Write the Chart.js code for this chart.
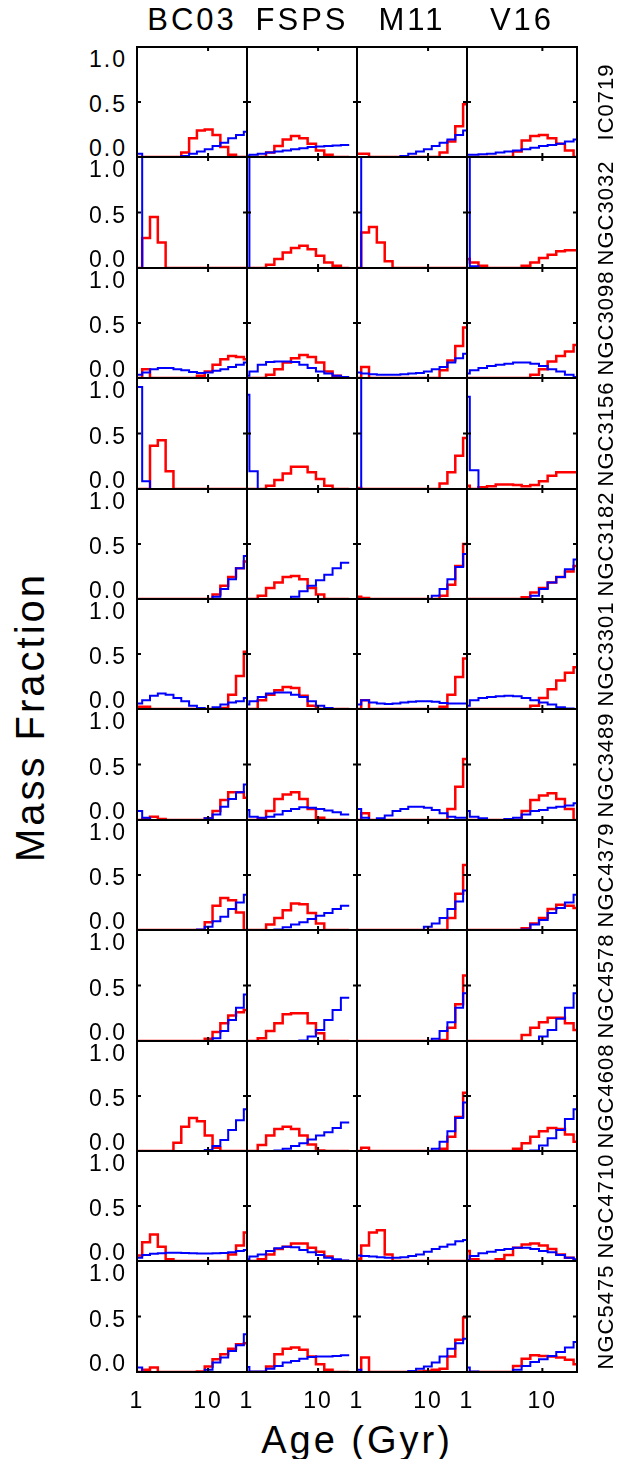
<!DOCTYPE html>
<html>
<head>
<meta charset="utf-8">
<script src="https://cdn.jsdelivr.net/npm/chart.js@4.4.0/dist/chart.umd.min.js"></script>
<style>
  html, body { margin: 0; padding: 0; background: #fff; }
  #fig { position: relative; width: 622px; height: 1459px; overflow: hidden;
         font-family: 'Liberation Sans', Arial, sans-serif; color: #000; }
  #fig canvas { position: absolute; }
  .lbl { position: absolute; white-space: nowrap; line-height: 1; }
</style>
</head>
<body>
<div id="fig"></div>
<script>
const galaxies = ['IC0719', 'NGC3032', 'NGC3098', 'NGC3156', 'NGC3182', 'NGC3301',
                  'NGC3489', 'NGC4379', 'NGC4578', 'NGC4608', 'NGC4710', 'NGC5475'];
const models = ['BC03', 'FSPS', 'M11', 'V16'];

// age bin edges (Gyr) for each model grid
const edgesBC03 = [0.918, 1.183, 1.524, 1.963, 2.529, 3.258, 4.198, 5.408, 6.966, 8.974, 11.56, 14.89, 19.19, 24.72, 31.84, 41.02];
const edgesFSPS = [0.826, 1.081, 1.416, 1.854, 2.427, 3.177, 4.159, 5.445, 7.129, 9.333, 12.22, 16.00, 20.94, 27.42];
const edgesM11  = [0.887, 1.146, 1.476, 1.901, 2.455, 3.162, 4.074, 5.260, 6.776, 8.730, 11.27, 14.52, 18.71, 24.15, 31.12, 40.09];
const edgesV16  = [0.836, 1.089, 1.419, 1.845, 2.404, 3.133, 4.083, 5.309, 6.918, 9.016, 11.75, 15.28, 19.91, 25.94, 33.73];

// x range upper limit (Gyr) per column
const ageMax = [35.3, 35.3, 35.3, 28.8];

const xTickValues = [1, 10];
const xTickLabels = ['1', '10'];
const yTickValues = [1, 0.5, 0];
const yTickLabels = ['1.0', '0.5', '0.0'];

// mass fractions, one row per galaxy (red / blue histograms)
const redBC03 = [
  [0,0,0,0,0,0,0.04,0.17,0.24,0.25,0.2,0.09,0.02,0,0],
  [0,0.27,0.46,0.23,0,0,0,0,0,0,0,0,0,0,0],
  [0,0.08,0,0,0,0,0,0,0.02,0.06,0.12,0.17,0.2,0.19,0.17],
  [0,0,0.39,0.44,0.16,0,0,0,0,0,0,0,0,0,0],
  [0,0,0,0,0,0,0,0,0,0,0.04,0.12,0.2,0.28,0.34],
  [0.02,0.02,0,0,0,0,0,0,0,0,0,0.01,0.13,0.3,0.52],
  [0,0.01,0.03,0.01,0,0,0,0,0,0.015,0.08,0.18,0.25,0.25,0.2],
  [0,0,0,0,0,0,0,0,0,0.07,0.22,0.29,0.27,0.16,0],
  [0,0,0,0,0,0,0,0,0,0.02,0.08,0.16,0.23,0.26,0.28],
  [0,0,0,0,0,0.075,0.22,0.3,0.27,0.14,0.03,0,0,0,0],
  [0.05,0.17,0.24,0.13,0.015,0,0,0,0,0,0,0,0.06,0.14,0.26],
  [0,0.02,0.04,0,0,0,0,0,0.005,0.05,0.115,0.16,0.21,0.25,0.26]
];
const blueBC03 = [
  [0.03,0,0,0,0,0,0.01,0.03,0.05,0.07,0.1,0.13,0.17,0.2,0.23],
  [1,0,0,0,0,0,0,0,0,0,0,0,0,0,0],
  [0.03,0.05,0.08,0.09,0.09,0.08,0.07,0.055,0.045,0.05,0.065,0.08,0.1,0.12,0.14],
  [0.92,0.07,0,0,0,0,0,0,0,0,0,0,0,0,0],
  [0,0,0,0,0,0,0,0,0,0,0.02,0.09,0.18,0.28,0.39],
  [0.05,0.08,0.12,0.14,0.13,0.1,0.07,0.03,0.01,0,0.015,0.04,0.06,0.07,0.1],
  [0.08,0.02,0,0,0,0,0,0,0,0.015,0.05,0.12,0.19,0.25,0.32],
  [0,0,0,0,0,0,0,0,0.005,0.03,0.08,0.12,0.19,0.25,0.32],
  [0,0,0,0,0,0,0,0,0,0,0.025,0.09,0.19,0.3,0.42],
  [0,0,0,0,0,0,0,0,0,0.01,0.045,0.1,0.19,0.28,0.38],
  [0.03,0.055,0.065,0.07,0.075,0.075,0.072,0.07,0.068,0.068,0.07,0.072,0.08,0.09,0.1],
  [0.04,0,0,0,0,0,0,0,0,0.02,0.085,0.13,0.19,0.24,0.34]
];
const redFSPS = [
  [0,0,0,0.04,0.1,0.16,0.19,0.17,0.12,0.06,0.02,0,0],
  [0,0,0,0.03,0.08,0.14,0.18,0.2,0.17,0.11,0.05,0.02,0],
  [0,0,0,0.03,0.08,0.14,0.18,0.21,0.19,0.14,0.06,0.02,0],
  [0,0,0,0.03,0.08,0.14,0.2,0.2,0.15,0.09,0.03,0,0],
  [0,0,0.03,0.1,0.15,0.2,0.21,0.18,0.1,0.04,0,0,0],
  [0,0,0.08,0.13,0.17,0.2,0.19,0.12,0.03,0,0,0,0],
  [0,0,0.015,0.08,0.19,0.23,0.25,0.19,0.1,0.02,0,0,0],
  [0,0,0,0.05,0.11,0.18,0.24,0.235,0.155,0.06,0,0,0],
  [0,0,0.025,0.09,0.16,0.24,0.25,0.25,0.16,0.07,0,0,0],
  [0,0,0.055,0.14,0.2,0.22,0.2,0.14,0.06,0.005,0,0,0],
  [0,0,0.015,0.06,0.11,0.13,0.16,0.16,0.12,0.085,0.04,0.005,0],
  [0,0,0,0.05,0.16,0.21,0.22,0.2,0.14,0.07,0.02,0,0]
];
const blueFSPS = [
  [0.01,0.02,0.03,0.04,0.05,0.06,0.07,0.08,0.09,0.095,0.1,0.105,0.11],
  [1,0,0,0,0,0,0,0,0,0,0,0,0],
  [0.02,0.06,0.12,0.145,0.15,0.15,0.145,0.12,0.09,0.06,0.04,0.02,0.01],
  [0.85,0.16,0,0,0,0,0,0,0,0,0,0,0],
  [0,0,0,0,0,0,0.02,0.07,0.12,0.17,0.22,0.28,0.33],
  [0.04,0.07,0.11,0.14,0.15,0.15,0.13,0.11,0.07,0.03,0.01,0,0],
  [0.09,0.03,0.02,0.03,0.05,0.08,0.1,0.115,0.11,0.1,0.085,0.07,0.05],
  [0,0,0,0,0.005,0.025,0.05,0.07,0.1,0.13,0.155,0.19,0.22],
  [0,0,0,0,0,0,0,0.005,0.04,0.1,0.19,0.28,0.39],
  [0,0,0,0,0.005,0.02,0.045,0.07,0.105,0.14,0.17,0.21,0.26],
  [0.015,0.04,0.06,0.09,0.115,0.13,0.125,0.1,0.08,0.055,0.03,0.015,0.005],
  [0.045,0.005,0.005,0.03,0.055,0.085,0.1,0.12,0.135,0.14,0.14,0.145,0.15]
];
const redM11 = [
  [0.03,0.03,0,0,0,0,0,0,0,0,0,0.04,0.14,0.28,0.48],
  [0,0.32,0.37,0.23,0.06,0,0,0,0,0,0,0,0,0,0],
  [0,0.1,0,0,0,0,0,0,0,0,0,0.07,0.16,0.29,0.46],
  [0.01,0,0,0,0,0,0,0,0,0,0,0.05,0.15,0.3,0.46],
  [0.02,0.01,0,0,0,0,0,0,0,0,0,0.03,0.13,0.3,0.5],
  [0,0.08,0,0,0,0,0,0,0,0,0,0.02,0.13,0.29,0.46],
  [0,0.06,0,0,0,0,0,0,0,0,0,0,0.1,0.3,0.55],
  [0,0,0,0,0,0,0,0,0,0,0,0,0.11,0.33,0.59],
  [0,0,0,0,0,0,0,0,0,0,0,0.01,0.12,0.33,0.59],
  [0,0.03,0,0,0,0,0,0,0,0,0,0.02,0.13,0.31,0.53],
  [0.02,0.14,0.26,0.28,0.06,0,0,0,0,0,0,0,0,0,0],
  [0,0.13,0,0,0,0,0,0,0.005,0.01,0.02,0.03,0.14,0.29,0.49]
];
const blueM11 = [
  [0,0,0,0,0,0,0.01,0.03,0.05,0.07,0.1,0.13,0.16,0.2,0.24],
  [1,0,0,0,0,0,0,0,0,0,0,0,0,0,0],
  [0.05,0.04,0.035,0.03,0.03,0.03,0.035,0.04,0.045,0.06,0.08,0.1,0.14,0.18,0.22],
  [1,0,0,0,0,0,0,0,0,0,0,0,0,0,0],
  [0,0,0,0,0,0,0,0,0,0,0.03,0.09,0.18,0.29,0.41],
  [0.04,0.08,0.06,0.05,0.045,0.05,0.06,0.065,0.07,0.07,0.065,0.055,0.05,0.05,0.05],
  [0.1,0.02,0,0.015,0.04,0.08,0.1,0.12,0.12,0.11,0.09,0.06,0.03,0.02,0.02],
  [0,0,0,0,0,0,0,0,0,0.03,0.06,0.11,0.19,0.26,0.36],
  [0,0,0,0,0,0,0,0,0,0,0.02,0.09,0.17,0.3,0.43],
  [0,0,0,0,0,0,0,0,0,0,0.02,0.085,0.18,0.3,0.44],
  [0.05,0.045,0.04,0.035,0.03,0.03,0.035,0.045,0.06,0.085,0.11,0.13,0.15,0.18,0.19],
  [0.02,0,0,0,0,0,0,0.01,0.03,0.05,0.085,0.14,0.21,0.26,0.3]
];
const redV16 = [
  [0,0,0,0,0,0,0.05,0.15,0.19,0.2,0.17,0.12,0.06,0],
  [0.08,0.05,0.02,0,0,0,0,0.02,0.05,0.09,0.12,0.15,0.16,0.16],
  [0,0,0,0,0,0,0,0,0.03,0.08,0.15,0.2,0.24,0.3],
  [0.03,0,0.015,0.025,0.04,0.04,0.035,0.025,0.035,0.07,0.12,0.15,0.15,0.15],
  [0,0,0,0,0,0,0,0.015,0.06,0.1,0.15,0.2,0.25,0.3],
  [0,0,0,0,0,0,0,0,0.03,0.1,0.18,0.26,0.33,0.38],
  [0,0,0,0,0,0,0,0.08,0.18,0.22,0.24,0.19,0.1,0],
  [0,0,0,0,0,0,0,0.015,0.06,0.11,0.19,0.23,0.22,0.2],
  [0,0,0,0,0,0,0,0.055,0.12,0.17,0.21,0.21,0.16,0.1],
  [0,0,0,0,0,0,0.02,0.07,0.13,0.18,0.21,0.2,0.15,0.085],
  [0.09,0.015,0,0,0.015,0.055,0.12,0.15,0.16,0.14,0.11,0.06,0.03,0.005],
  [0,0,0,0,0,0,0.055,0.12,0.15,0.145,0.14,0.13,0.11,0.07]
];
const blueV16 = [
  [0.02,0.02,0.025,0.03,0.04,0.05,0.06,0.07,0.085,0.1,0.11,0.12,0.14,0.16],
  [1,0.015,0,0,0,0,0,0,0,0,0,0,0,0],
  [0.04,0.07,0.09,0.11,0.12,0.13,0.14,0.14,0.13,0.11,0.08,0.06,0.03,0.01],
  [0.83,0.17,0,0,0,0,0,0,0,0,0,0,0,0],
  [0,0,0,0,0,0,0,0,0.03,0.09,0.15,0.2,0.27,0.36],
  [0.03,0.08,0.1,0.11,0.115,0.12,0.115,0.1,0.08,0.06,0.04,0.015,0.005,0],
  [0.08,0.03,0.015,0,0,0.01,0.02,0.05,0.08,0.09,0.11,0.12,0.13,0.15],
  [0,0,0,0,0,0,0,0.005,0.05,0.09,0.155,0.2,0.25,0.32],
  [0,0,0,0,0,0,0,0,0,0.04,0.1,0.2,0.3,0.43],
  [0,0,0,0,0,0,0,0,0.005,0.05,0.115,0.19,0.29,0.38],
  [0.01,0.045,0.07,0.085,0.1,0.11,0.12,0.12,0.11,0.09,0.08,0.055,0.03,0.015],
  [0.04,0.005,0,0,0,0,0.02,0.055,0.09,0.115,0.145,0.18,0.22,0.27]
];

const edgesByModel = [edgesBC03, edgesFSPS, edgesM11, edgesV16];
const redByModel = [redBC03, redFSPS, redM11, redV16];
const blueByModel = [blueBC03, blueFSPS, blueM11, blueV16];

// panel grid layout
const colLeft = [137, 247, 357, 467];
const panelW = 110;
const gridTop = 47;
const rowH = 110.4;
const pad = 4;

const fig = document.getElementById('fig');

function addText(txt, x, y, size, opts = {}) {
  const d = document.createElement('div');
  d.className = 'lbl';
  d.textContent = txt;
  d.style.left = x + 'px';
  d.style.top = y + 'px';
  d.style.fontSize = size + 'px';
  if (opts.spacing) d.style.letterSpacing = opts.spacing + 'px';
  let tf = opts.align === 'right' ? 'translate(-100%,-50%)' : 'translate(-50%,-50%)';
  if (opts.rotate) tf += ' rotate(-90deg)';
  d.style.transform = tf;
  fig.appendChild(d);
  return d;
}

// step histogram: value i holds from edge i to edge i+1
function histPoints(edges, vals) {
  return edges.map((e, i) => ({ x: e, y: vals[Math.min(i, vals.length - 1)] }));
}

// black box with inward ticks at 10 Gyr and 0.5
const panelFrame = {
  id: 'panelFrame',
  afterDraw(chart) {
    const { ctx, chartArea: a, scales: { x, y } } = chart;
    ctx.save();
    ctx.strokeStyle = '#000';
    ctx.lineWidth = 2;
    ctx.strokeRect(a.left, a.top, a.right - a.left, a.bottom - a.top);
    const px = x.getPixelForValue(xTickValues[1]);
    const py = y.getPixelForValue(yTickValues[1]);
    ctx.beginPath();
    ctx.moveTo(px, a.top); ctx.lineTo(px, a.top + 4);
    ctx.moveTo(px, a.bottom); ctx.lineTo(px, a.bottom - 4);
    ctx.moveTo(a.left, py); ctx.lineTo(a.left + 4, py);
    ctx.moveTo(a.right, py); ctx.lineTo(a.right - 4, py);
    ctx.stroke();
    ctx.restore();
  }
};

for (let r = 0; r < galaxies.length; r++) {
  const top = Math.round(gridTop + r * rowH);
  const bottom = Math.round(gridTop + (r + 1) * rowH);
  const h = bottom - top;

  for (let c = 0; c < models.length; c++) {
    const cv = document.createElement('canvas');
    const cw = panelW + 2 * pad, ch = h + 2 * pad;
    cv.width = cw; cv.height = ch;
    cv.style.width = cw + 'px'; cv.style.height = ch + 'px';
    cv.style.left = (colLeft[c] - pad) + 'px';
    cv.style.top = (top - pad) + 'px';
    fig.appendChild(cv);

    const edges = edgesByModel[c];
    const chart = new Chart(cv, {
      type: 'line',
      data: {
        datasets: [
          { data: histPoints(edges, blueByModel[c][r]), borderColor: '#0000ff',
            borderWidth: 2, stepped: true, pointRadius: 0, fill: false },
          { data: histPoints(edges, redByModel[c][r]), borderColor: '#ff0000',
            borderWidth: 2.5, stepped: true, pointRadius: 0, fill: false }
        ]
      },
      options: {
        responsive: false,
        animation: false,
        events: [],
        layout: { padding: pad },
        plugins: { legend: { display: false }, tooltip: { enabled: false } },
        scales: {
          x: { type: 'logarithmic', min: 1, max: ageMax[c], display: false },
          y: { type: 'linear', min: 0, max: 1, display: false }
        }
      },
      plugins: [panelFrame]
    });

    // y tick labels on the left column, nudged inside the panel span
    if (c === 0) {
      const nudge = [12, 2, -9];
      yTickValues.forEach((v, i) => {
        const py = top - pad + chart.scales.y.getPixelForValue(v) + nudge[i];
        addText(yTickLabels[i], 127, py, 23, { align: 'right', spacing: 2 });
      });
    }
    // x tick labels under the bottom row
    if (r === galaxies.length - 1) {
      xTickValues.forEach((v, i) => {
        const px = colLeft[c] - pad + chart.scales.x.getPixelForValue(v);
        addText(xTickLabels[i], px, 1400, 23, { spacing: 2 });
      });
    }
  }
  addText(galaxies[r], 606, (top + bottom) / 2, 22, { rotate: true, spacing: 1 });
}

models.forEach((m, c) => addText(m, colLeft[c] + panelW / 2, 19, 31, { spacing: 3 }));
addText('Age (Gyr)', 357, 1440, 38, { spacing: 3 });
addText('Mass Fraction', 30, 717, 40, { rotate: true, spacing: 3 });
</script>
</body>
</html>
